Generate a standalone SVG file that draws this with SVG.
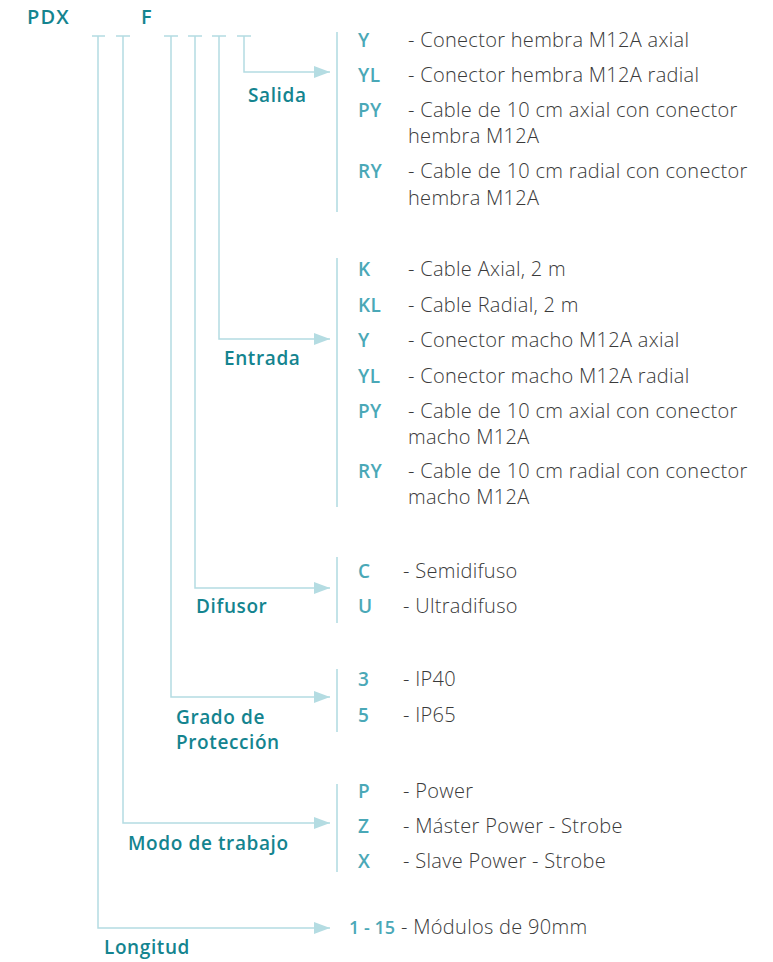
<svg xmlns="http://www.w3.org/2000/svg" width="773" height="962" viewBox="0 0 773 962">
<defs>
<marker id="arr" markerUnits="userSpaceOnUse" markerWidth="18" markerHeight="14" refX="16" refY="7" orient="auto">
<polygon points="0,1 16,7 0,13" fill="#b4dce2"/>
</marker>
<style>
.ln{fill:none;stroke:#b4dce2;stroke-width:1.5}
.br{fill:none;stroke:#c3e3e8;stroke-width:2}
.lab{font-family:"Open Sans","Liberation Sans",sans-serif;font-size:19px;font-weight:600;letter-spacing:0.6px;fill:#14848f}
.ttl{font-family:"Open Sans","Liberation Sans",sans-serif;font-size:20px;font-weight:600;letter-spacing:1.2px;fill:#14848f}
.code{font-family:"Open Sans","Liberation Sans",sans-serif;font-size:19px;font-weight:600;letter-spacing:0.4px;fill:#4aa8b7}
.num{font-size:18px;letter-spacing:0}
.txt{font-family:"Open Sans","Liberation Sans",sans-serif;font-size:20px;font-weight:300;letter-spacing:0.3px;fill:#3a3a3a}
</style>
</defs>
<rect width="773" height="962" fill="#ffffff"/>
<g id="title">
<text class="ttl" x="27" y="24">PDX</text>
<text class="ttl" x="141" y="24">F</text>
</g>
<g id="connectors">
<path class="ln" d="M92,36H105M116,36H130M164,36H178M188,36H202M212,36H226M237,36H251"/>
<path class="ln" d="M244,36V72H330" marker-end="url(#arr)"/>
<path class="ln" d="M219,36V339H330" marker-end="url(#arr)"/>
<path class="ln" d="M195,36V588H330" marker-end="url(#arr)"/>
<path class="ln" d="M171,36V697H330" marker-end="url(#arr)"/>
<path class="ln" d="M123,36V823H330" marker-end="url(#arr)"/>
<path class="ln" d="M98,36V928H330" marker-end="url(#arr)"/>
<path class="br" d="M337,32V212M337,258V507M337,557V623M337,669V732M337,784V872"/>
</g>
<g id="salida">
<text class="lab" x="248" y="102">Salida</text>
<text class="code" x="358" y="47">Y</text><text class="txt" x="408" y="47">- Conector hembra M12A axial</text>
<text class="code" x="358" y="82">YL</text><text class="txt" x="408" y="82">- Conector hembra M12A radial</text>
<text class="code" x="358" y="117">PY</text><text class="txt" x="408" y="117">- Cable de 10 cm axial con conector</text><text class="txt" x="408" y="143">hembra M12A</text>
<text class="code" x="358" y="178">RY</text><text class="txt" x="408" y="178">- Cable de 10 cm radial con conector</text><text class="txt" x="408" y="205">hembra M12A</text>
</g>
<g id="entrada">
<text class="lab" x="224" y="365">Entrada</text>
<text class="code" x="358" y="276">K</text><text class="txt" x="408" y="276">- Cable Axial, 2 m</text>
<text class="code" x="358" y="312">KL</text><text class="txt" x="408" y="312">- Cable Radial, 2 m</text>
<text class="code" x="358" y="347">Y</text><text class="txt" x="408" y="347">- Conector macho M12A axial</text>
<text class="code" x="358" y="383">YL</text><text class="txt" x="408" y="383">- Conector macho M12A radial</text>
<text class="code" x="358" y="418">PY</text><text class="txt" x="408" y="418">- Cable de 10 cm axial con conector</text><text class="txt" x="408" y="444">macho M12A</text>
<text class="code" x="358" y="478">RY</text><text class="txt" x="408" y="478">- Cable de 10 cm radial con conector</text><text class="txt" x="408" y="504">macho M12A</text>
</g>
<g id="difusor">
<text class="lab" x="196" y="613">Difusor</text>
<text class="code" x="358" y="578">C</text><text class="txt" x="403" y="578">- Semidifuso</text>
<text class="code" x="358" y="613">U</text><text class="txt" x="403" y="613">- Ultradifuso</text>
</g>
<g id="grado">
<text class="lab" x="176" y="724">Grado de</text>
<text class="lab" x="176" y="749">Protección</text>
<text class="code" x="358" y="686">3</text><text class="txt" x="403" y="686">- IP40</text>
<text class="code" x="358" y="722">5</text><text class="txt" x="403" y="722">- IP65</text>
</g>
<g id="modo">
<text class="lab" x="128" y="850">Modo de trabajo</text>
<text class="code" x="358" y="798">P</text><text class="txt" x="403" y="798">- Power</text>
<text class="code" x="358" y="833">Z</text><text class="txt" x="403" y="833">- Máster Power - Strobe</text>
<text class="code" x="358" y="868">X</text><text class="txt" x="403" y="868">- Slave Power - Strobe</text>
</g>
<g id="longitud">
<text class="lab" x="104" y="954">Longitud</text>
<text class="code num" x="349" y="934">1 - 15</text><text class="txt" x="401" y="934">- Módulos de 90mm</text>
</g>
</svg>
